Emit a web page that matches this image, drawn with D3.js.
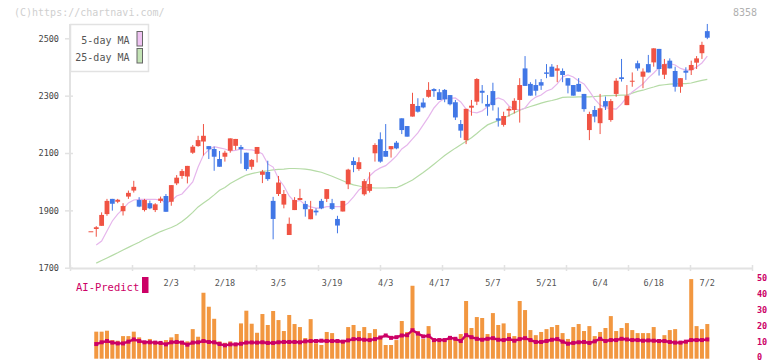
<!DOCTYPE html>
<html>
<head>
<meta charset="utf-8">
<script src="https://cdn.jsdelivr.net/npm/d3@7"></script>
<style>
  body { margin: 0; background: #fff; }
  text { font-family: "DejaVu Sans Mono", monospace; }
</style>
</head>
<body>
<svg id="chart" width="772" height="361"></svg>
<script>
// daily candles, index 0 .. 115 (2/3 is index 15, 7/2 is index 115)
const opens = [1827,1835,1846,1887,1940,1930,1897,1948,1969,1936,1901,1925,1901,1933,1950,1930,1994,2020,2018,2101,
  2124,2140,2124,2114,2079,2087,2108,2125,2121,2101,2052,2097,2024,2034,1933,1957,1920,1814,1901,1936,
  1922,1869,1899,1933,1940,1925,1870,1896,1991,2072,2044,1956,1968,2099,2148,2107,2113,2136,2221,2194,
  2227,2264,2276,2296,2323,2312,2320,2302,2277,2201,2145,2258,2279,2317,2271,2316,2221,2198,2248,2250,
  2285,2395,2341,2337,2347,2381,2401,2387,2386,2361,2337,2341,2306,2180,2250,2204,2281,2215,2306,2364,
  2267,2352,2413,2366,2410,2416,2463,2373,2422,2386,2331,2387,2389,2415,2448,2525];
const highs = [1827,1845,1893,1940,1940,1940,1925,1969,2003,1946,1940,1934,1925,1948,1957,1988,2023,2044,2055,2128,
  2160,2201,2124,2122,2107,2108,2151,2149,2128,2101,2079,2121,2041,2073,1947,2020,1971,1875,1946,1975,
  1933,1933,1907,1940,1974,1940,1881,1933,2045,2085,2085,2009,2033,2134,2172,2201,2124,2142,2221,2194,
  2310,2291,2291,2347,2326,2323,2323,2302,2285,2215,2254,2285,2361,2337,2302,2345,2259,2244,2262,2291,
  2361,2438,2347,2357,2358,2410,2410,2407,2395,2361,2337,2361,2306,2244,2264,2306,2297,2288,2361,2428,
  2337,2381,2422,2395,2442,2465,2463,2428,2430,2401,2361,2399,2422,2438,2488,2550];
const lows = [1827,1808,1846,1881,1899,1925,1882,1940,1962,1911,1896,1904,1894,1926,1895,1916,1988,2010,1994,2097,
  2122,2091,2079,2038,2052,2070,2101,2111,2063,2038,2042,2067,1995,2003,1799,1950,1907,1814,1901,1936,
  1878,1869,1882,1904,1929,1901,1820,1896,1974,2033,2038,1951,1962,2070,2066,2087,2084,2113,2166,2157,
  2227,2241,2256,2293,2296,2285,2277,2266,2215,2153,2131,2230,2267,2273,2230,2248,2192,2192,2227,2238,
  2206,2334,2300,2300,2320,2361,2366,2347,2347,2308,2300,2314,2244,2145,2207,2166,2250,2209,2296,2349,
  2267,2331,2387,2326,2381,2401,2370,2358,2395,2314,2310,2355,2372,2393,2428,2497];
const closes = [1827,1841,1884,1933,1923,1937,1915,1961,1982,1913,1936,1907,1921,1941,1895,1988,2014,2037,2055,2122,
  2145,2160,2113,2087,2052,2101,2151,2149,2113,2044,2076,2121,2035,2009,1870,1997,1957,1853,1936,1943,
  1904,1904,1893,1907,1974,1905,1847,1933,2042,2058,2068,2002,1992,2128,2070,2087,2124,2116,2180,2157,
  2271,2244,2259,2320,2316,2285,2287,2270,2224,2178,2254,2265,2358,2310,2262,2267,2213,2229,2254,2282,
  2337,2334,2300,2317,2335,2376,2366,2395,2372,2335,2300,2314,2253,2236,2227,2256,2262,2281,2352,2358,
  2300,2352,2395,2384,2381,2465,2393,2410,2395,2331,2361,2380,2407,2430,2477,2502];

// moving averages as drawn on the chart
const ma5 = [null,1779,1793,1828,1863,1887,1905,1926,1936,1938,1938,1938,1938,1936,1926,1933,1950,1957,1978,1999,
  2051,2093,2111,2122,2118,2114,2107,2109,2114,2112,2111,2107,2097,2062,2051,2010,1985,1950,1930,1935,
  1919,1912,1908,1908,1913,1913,1913,1913,1926,1947,1971,1985,2020,2037,2048,2056,2072,2090,2114,2128,
  2149,2170,2198,2226,2257,2278,2291,2291,2292,2278,2253,2243,2240,2247,2261,2285,2292,2285,2264,2253,
  2250,2257,2281,2295,2302,2316,2323,2341,2365,2372,2365,2351,2341,2316,2288,2267,2258,2255,2253,2271,
  2295,2313,2327,2341,2362,2379,2398,2409,2412,2407,2395,2389,2389,2400,2414,2438];
const ma25 = [null,1716,1725,1734,1743,1752,1762,1771,1780,1789,1799,1808,1817,1826,1833,1840,1849,1861,1876,1893,
  1912,1926,1939,1954,1970,1980,1994,2004,2014,2023,2028,2032,2036,2038,2041,2043,2044,2046,2046,2045,
  2044,2041,2037,2033,2026,2019,2011,2003,1995,1989,1985,1981,1979,1978,1978,1978,1979,1979,1987,1996,
  2006,2019,2032,2046,2061,2076,2091,2104,2117,2129,2141,2153,2168,2184,2198,2206,2213,2221,2231,2240,
  2249,2256,2262,2268,2274,2279,2283,2288,2294,2295,2295,2296,2296,2296,2297,2298,2300,2300,2301,2302,
  2302,2309,2315,2319,2325,2330,2336,2338,2340,2341,2342,2342,2344,2349,2353,2357];

// lower panel
const volumes = [null,16.4,16.4,17.0,11.1,10.7,13.6,13.6,16.4,12.8,10.5,11.8,10.5,9.7,11.1,12.8,14.9,10.3,10.3,18.0,
  13.2,40.9,32.1,24.5,10.3,9.4,10.3,8.0,21.6,29.6,21.4,15.7,27.5,20.6,29.4,23.7,16.8,26.9,21.2,19.3,
  12.4,24.3,9.1,8.0,16.2,15.5,11.1,11.1,19.3,20.6,16.8,19.3,15.5,18.0,13.6,8.0,8.0,11.1,23.1,16.2,
  45.3,16.8,11.8,19.9,11.8,9.9,10.5,13.6,11.8,14.9,35.7,18.7,25.6,25.0,14.9,28.1,20.6,21.6,15.5,13.6,
  35.7,30.0,17.4,14.2,16.2,18.0,19.3,20.6,15.5,11.8,19.3,21.2,16.8,19.9,13.6,16.2,18.7,26.2,16.8,18.7,
  21.8,17.4,15.5,15.5,15.5,19.3,10.5,14.2,17.4,18.0,10.5,10.5,49.5,19.9,18.0,21.2];
const aiPredict = [null,8.6,9.7,10.5,9.5,9.0,9.0,10.1,11.5,10.5,9.7,9.7,9.5,9.3,8.4,9.7,9.9,9.5,8.2,9.5,
  9.7,10.5,9.9,9.7,8.6,7.8,8.4,8.4,8.8,9.5,9.6,9.5,9.7,9.3,9.3,9.7,9.9,9.9,9.9,9.7,
  10.3,10.5,10.5,10.7,10.5,10.5,10.5,10.1,10.9,11.7,11.7,11.3,11.1,11.7,12.7,14.0,12.5,12.9,14.0,14.2,
  17.3,15.2,13.4,13.8,11.1,11.1,11.1,12.5,11.9,10.5,14.2,12.9,11.9,11.3,11.9,12.3,11.3,11.1,11.8,10.7,
  11.7,12.3,11.1,9.9,9.9,10.5,11.3,11.7,10.1,8.8,9.3,9.7,9.9,9.3,10.3,11.9,10.5,11.1,11.1,11.9,
  11.5,11.1,11.1,10.7,10.9,10.7,10.5,10.5,9.9,9.5,9.5,10.1,11.1,11.1,11.1,11.5];

const dateIndex = [15,25,35,45,55,65,75,85,95,105,115];
const dateLabels = ["2/3","2/18","3/5","3/19","4/3","4/17","5/7","5/21","6/4","6/18","7/2"];
const priceTicks = [1700,1900,2100,2300,2500];
const aiTicks = [0,10,20,30,40,50];

const upColor = "#f05343";
const downColor = "#4177e6";
const axisColor = "#e2e2e2";
const aiColor = "#cc0066";

const svg = d3.select("#chart");

const x = d3.scaleLinear().domain([0, closes.length - 1]).range([90.9, 707.3]);
const y = d3.scaleLinear().domain([1700, 2500]).range([267.7, 38.3]);
const yv = d3.scaleLinear().domain([0, 50]).range([357.7, 278.3]);
const xGrid = d3.scaleLinear().domain([0, 11]).range([70, 752]);

// header texts
svg.append("text").attr("x", 14).attr("y", 16)
  .attr("font-size", 10).attr("fill", "#cfcfcf")
  .text("(C)https://chartnavi.com/");
svg.append("text").attr("x", 757).attr("y", 16).attr("text-anchor", "end")
  .attr("font-size", 10).attr("fill", "#b0b0b0")
  .text("8358");

// left price axis
const yAxis = svg.append("g").attr("transform", "translate(70,0)")
  .call(d3.axisLeft(y).tickValues(priceTicks).tickFormat(d3.format("d"))
    .tickSizeInner(5).tickSizeOuter(0).tickPadding(6));
yAxis.select(".domain").remove();
yAxis.selectAll(".tick line").attr("x1", 3).attr("stroke", axisColor).attr("stroke-width", 1.5);
yAxis.selectAll(".tick text").attr("font-family", "DejaVu Sans Mono, monospace")
  .attr("font-size", 8.5).attr("fill", "#444");
svg.append("line").attr("x1", 70).attr("x2", 70).attr("y1", 24).attr("y2", 268)
  .attr("stroke", axisColor).attr("stroke-width", 2);

// bottom axis with evenly spaced ticks
const xAxis = svg.append("g").attr("transform", "translate(0,268)")
  .call(d3.axisBottom(xGrid).tickValues(d3.range(12)).tickFormat("").tickSizeInner(2).tickSizeOuter(0));
xAxis.select(".domain").attr("stroke", axisColor).attr("stroke-width", 2);
xAxis.selectAll(".tick line").attr("y1", -3).attr("y2", 3).attr("stroke", axisColor).attr("stroke-width", 1.5);

// date labels
svg.append("g").selectAll("text")
  .data(dateIndex)
  .join("text")
  .attr("x", d => x(d))
  .attr("y", 285.5)
  .attr("text-anchor", "middle")
  .attr("font-size", 8.5)
  .attr("fill", "#555")
  .text((d, i) => dateLabels[i]);

// moving averages
const maLine = d3.line()
  .defined(d => d != null)
  .x((d, i) => x(i))
  .y(d => y(d));
svg.append("path").datum(ma25).attr("d", maLine)
  .attr("fill", "none").attr("stroke", "#b5dba6").attr("stroke-width", 1.2);
svg.append("path").datum(ma5).attr("d", maLine)
  .attr("fill", "none").attr("stroke", "#e6b6ec").attr("stroke-width", 1.2);

// candles
const candles = closes.map((c, i) => ({ i: i, o: opens[i], h: highs[i], l: lows[i], c: c }));
const candleG = svg.append("g");
candleG.selectAll("line")
  .data(candles)
  .join("line")
  .attr("x1", d => x(d.i)).attr("x2", d => x(d.i))
  .attr("y1", d => y(d.h)).attr("y2", d => y(d.l))
  .attr("stroke", d => d.c >= d.o ? upColor : downColor)
  .attr("stroke-width", 1);
candleG.selectAll("rect")
  .data(candles)
  .join("rect")
  .attr("x", d => x(d.i) - 2.4)
  .attr("width", 4.8)
  .attr("y", d => y(Math.max(d.o, d.c)))
  .attr("height", d => Math.max(1, Math.abs(y(d.o) - y(d.c))))
  .attr("fill", d => d.c >= d.o ? upColor : downColor);

// legend
const legend = svg.append("g");
legend.append("rect").attr("x", 70.5).attr("y", 24.5).attr("width", 78).attr("height", 47)
  .attr("fill", "#fff").attr("stroke", axisColor).attr("stroke-width", 1.5);
const legendItems = [["5-day MA", "#efc3f2", 44], ["25-day MA", "#c3e3b5", 61]];
legend.selectAll("text.lab").data(legendItems).join("text")
  .attr("class", "lab")
  .attr("x", 129.5).attr("y", d => d[2])
  .attr("text-anchor", "end").attr("font-size", 10).attr("fill", "#555")
  .text(d => d[0]);
legend.selectAll("rect.sw").data(legendItems).join("rect")
  .attr("class", "sw")
  .attr("x", 137).attr("y", d => d[2] - 12.5).attr("width", 5.5).attr("height", 14.5)
  .attr("fill", d => d[1]).attr("stroke", "#666").attr("stroke-width", 1);

// AI-Predict panel
svg.append("text").attr("x", 76).attr("y", 290.5)
  .attr("font-size", 10.5).attr("fill", aiColor).text("AI-Predict");
svg.append("rect").attr("x", 142).attr("y", 277).attr("width", 6.5).attr("height", 16).attr("fill", aiColor);

svg.append("g").selectAll("rect")
  .data(volumes.map((v, i) => ({ i: i, v: v })).filter(d => d.v != null))
  .join("rect")
  .attr("x", d => x(d.i) - 2)
  .attr("width", 4)
  .attr("y", d => yv(d.v))
  .attr("height", d => yv(0) - yv(d.v) + 1)
  .attr("fill", "#f29740");

const aiLine = d3.line()
  .defined(d => d != null)
  .x((d, i) => x(i))
  .y(d => yv(d));
svg.append("path").datum(aiPredict).attr("d", aiLine)
  .attr("fill", "none").attr("stroke", aiColor).attr("stroke-width", 2.4);
svg.append("g").selectAll("rect")
  .data(aiPredict.map((v, i) => ({ i: i, v: v })).filter(d => d.v != null))
  .join("rect")
  .attr("x", d => x(d.i) - 2).attr("y", d => yv(d.v) - 2)
  .attr("width", 4).attr("height", 4)
  .attr("fill", aiColor);

// right scale for AI-Predict
svg.append("g").selectAll("text")
  .data(aiTicks)
  .join("text")
  .attr("x", 757)
  .attr("y", d => Math.min(yv(d) + 3, 359.5))
  .attr("font-size", 8.5)
  .attr("font-weight", "bold")
  .attr("fill", aiColor)
  .text(d => d);
</script>
</body>
</html>
